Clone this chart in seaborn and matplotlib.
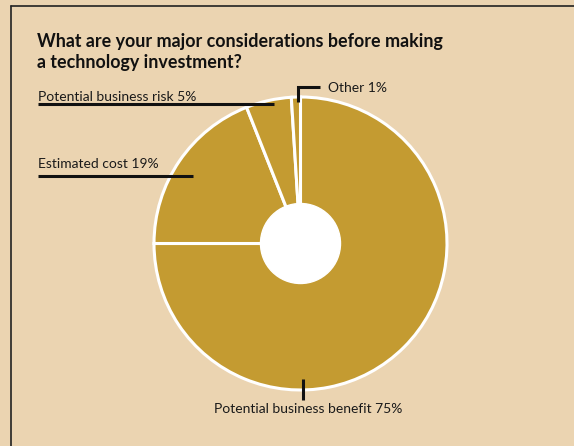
import matplotlib
matplotlib.use("Agg")
import matplotlib.pyplot as plt
from matplotlib.patches import Circle
import seaborn as sns

categories = ["Potential business benefit", "Estimated cost", "Potential business risk", "Other"]
values = [75, 19, 5, 1]
label_texts = ["Potential business benefit 75%", "Estimated cost 19%", "Potential business risk 5%", "Other 1%"]
title = "What are your major considerations before making\na technology investment?"

BG = "#ebd4b1"
GOLD = "#c49b31"

sns.set_style("white")
plt.rcParams["font.family"] = ["Lato", "DejaVu Sans"]

W, H = 574, 446
fig = plt.figure(figsize=(W / 100, H / 100), dpi=100, facecolor=BG)
ax = fig.add_axes([0, 0, 1, 1])
ax.set_facecolor(BG)

cx, cy, R = 300.5, 243.5, 146.5
colors = sns.color_palette([GOLD] * len(values))
# y axis is inverted below, so counterclockwise from -90 appears clockwise from top
wedges, _ = ax.pie(values, center=(cx, cy), radius=R, startangle=-90, counterclock=True,
                   colors=colors, wedgeprops=dict(edgecolor="white", linewidth=2.2))
ax.set_xlim(0, W)
ax.set_ylim(H, 0)
ax.set_aspect("equal")
ax.axis("off")
ax.add_patch(Circle((cx, cy), 40, facecolor="white", edgecolor="white", zorder=5))

# frame
ax.plot([11, W], [6, 6], color="#222222", lw=1.2, zorder=6)
ax.plot([11, 11], [6, H], color="#222222", lw=1.2, zorder=6)

# title
ax.text(37, 68, title, fontsize=12.9, fontweight="bold", color="#111111",
        va="baseline", ha="left", linespacing=1.3)

lab_fs = 10
TXT = "#1a1a1a"
# risk label
ax.text(38, 101, label_texts[2], fontsize=lab_fs, color=TXT, va="baseline", ha="left")
ax.plot([38, 274], [104, 104], color="#111111", lw=2.2, zorder=6, solid_capstyle="butt")
# cost label
ax.text(38, 168, label_texts[1], fontsize=lab_fs, color=TXT, va="baseline", ha="left")
ax.plot([38, 193], [176, 176], color="#111111", lw=2.2, zorder=6, solid_capstyle="butt")
# other label
ax.text(328, 92, label_texts[3], fontsize=lab_fs, color=TXT, va="baseline", ha="left")
ax.plot([298, 298, 320], [102, 87, 87], color="#111111", lw=2.2, zorder=6,
        solid_capstyle="butt", solid_joinstyle="miter")
# benefit label
ax.text(308, 413, label_texts[0], fontsize=lab_fs, color=TXT, va="baseline", ha="center")
ax.plot([303, 303], [379, 400], color="#111111", lw=2.2, zorder=6, solid_capstyle="butt")

fig.savefig("out.png", dpi=100, facecolor=BG)
